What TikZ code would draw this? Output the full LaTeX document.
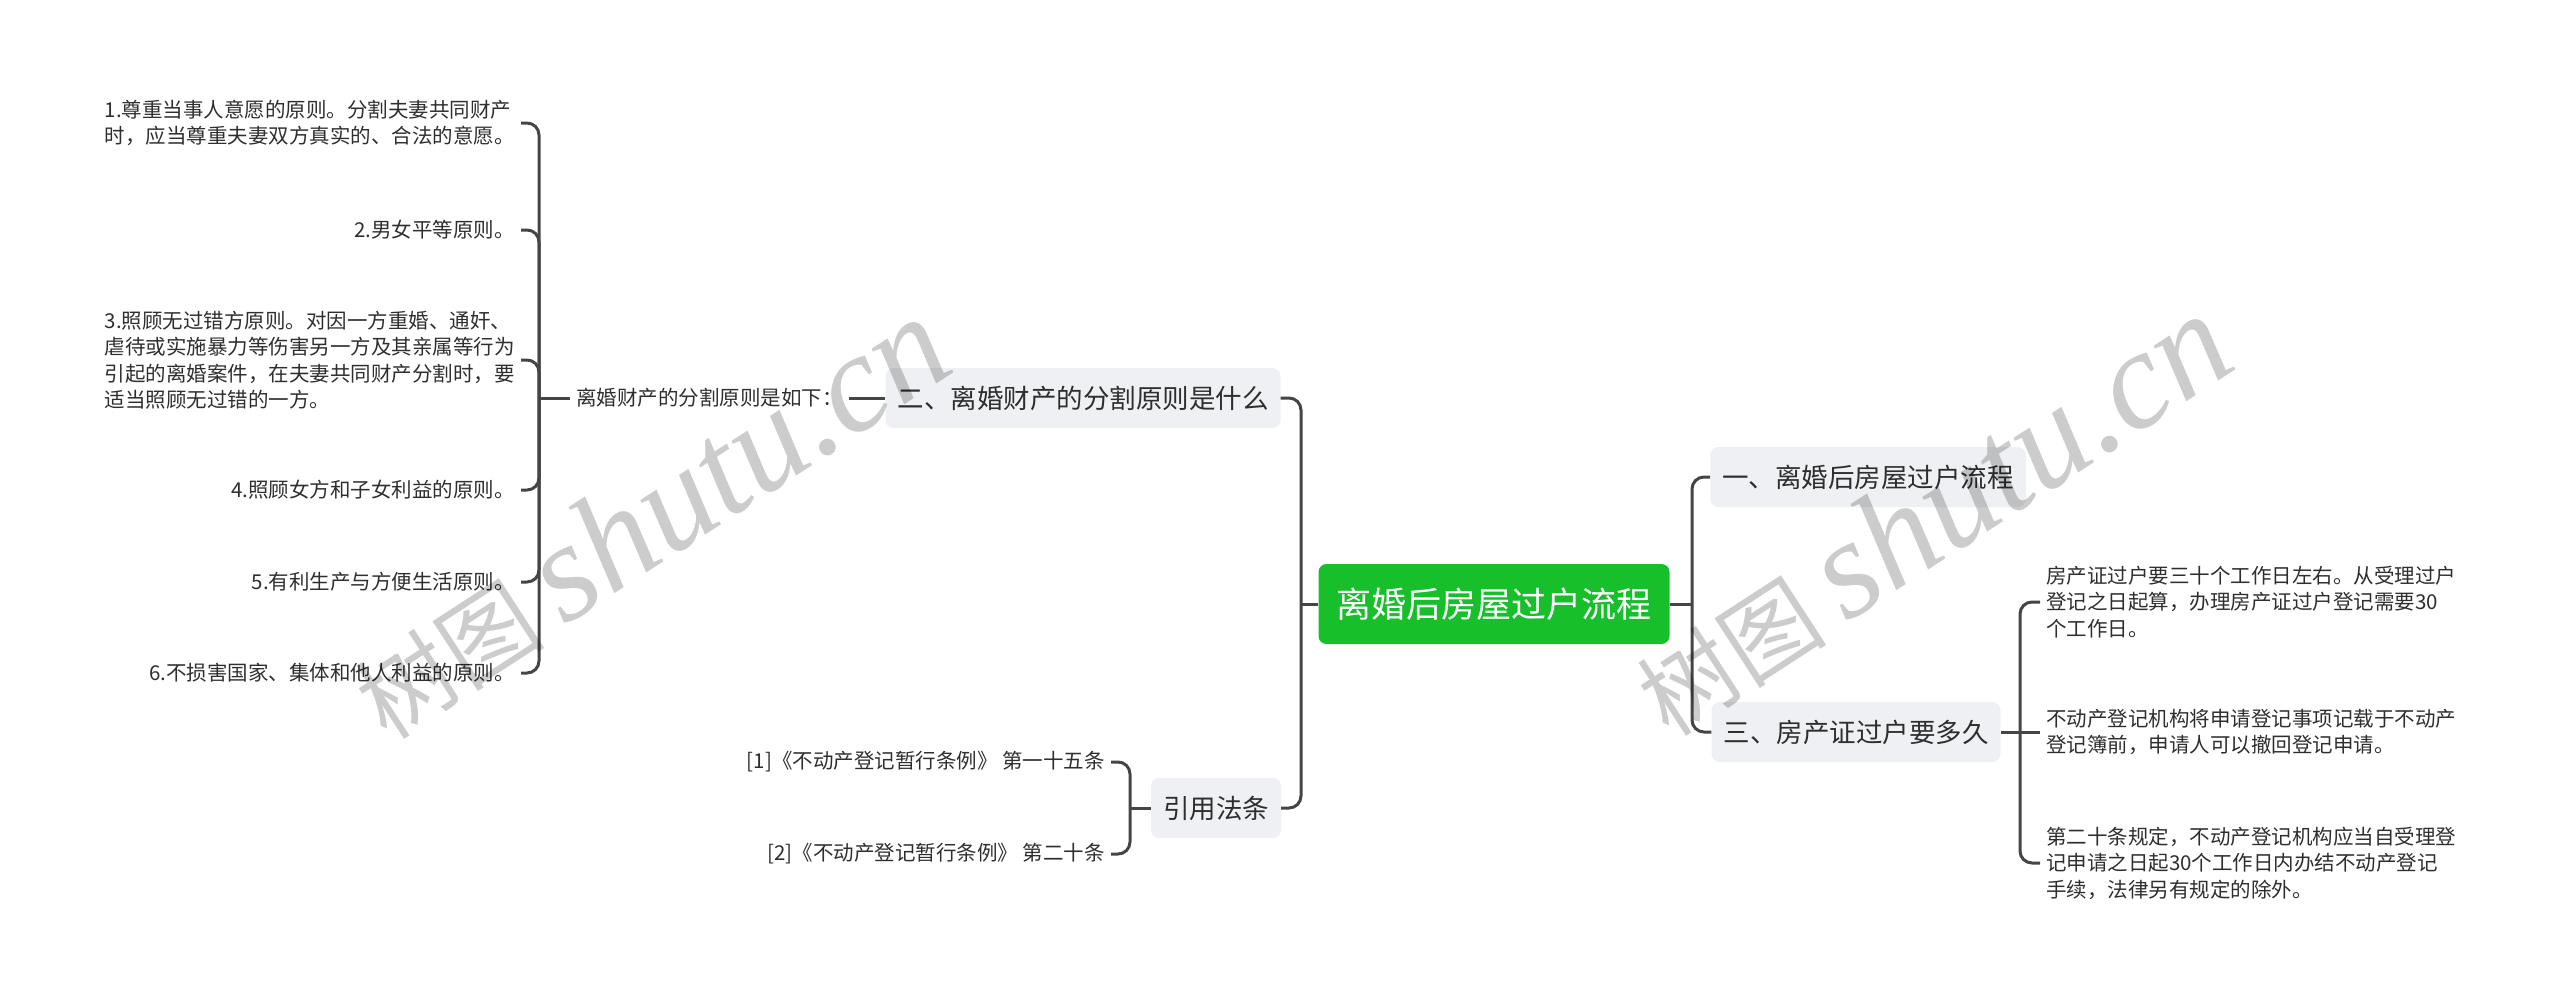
\documentclass[tikz,border=0pt]{standalone}
\usepackage{fontspec}
\setmainfont{Noto Sans CJK SC}
\newfontfamily\wmlatin{Liberation Serif}
\usepackage{tikz}

\definecolor{rootgreen}{HTML}{17C02B}
\definecolor{boxgray}{HTML}{EEF0F3}
\definecolor{linegray}{HTML}{454545}
\definecolor{textdark}{HTML}{2E2E2E}

\begin{document}
\begin{tikzpicture}[x=1pt,y=-1pt,
    rootnode/.style={fill=rootgreen,text=white,rounded corners=8pt,inner xsep=18pt,minimum height=80pt,font=\fontsize{35}{42}\selectfont},
    branch/.style={fill=boxgray,text=textdark,rounded corners=8pt,inner xsep=12pt,minimum height=60pt,font=\fontsize{26.5}{32}\selectfont},
    leaf/.style={text=textdark,inner xsep=6pt,inner ysep=2pt,align=left,font=\fontsize{20.5}{26.5}\selectfont},
    conn/.style={draw=linegray,line width=3pt,rounded corners=12pt},
    wmark/.style={text=black,text opacity=0.2,inner sep=0pt}
]
    \useasboundingbox (0,0) rectangle (2560,1001);

    % centre and main branches
    \node[rootnode] (root) at (1494,604) {离婚后房屋过户流程};
    \node[branch] (flow) at (1868,477) {一、离婚后房屋过户流程};
    \node[branch] (howlong) at (1856,732) {三、房产证过户要多久};
    \node[branch] (rules) at (1083,398) {二、离婚财产的分割原则是什么};
    \node[branch] (laws) at (1216,808) {引用法条};

    % principles
    \node[leaf,anchor=east] (lab) at (849,398) {离婚财产的分割原则是如下：};
    \node[leaf,anchor=east] (p1) at (521,123) {1.尊重当事人意愿的原则。分割夫妻共同财产\\时，应当尊重夫妻双方真实的、合法的意愿。};
    \node[leaf,anchor=east] (p2) at (521,230) {2.男女平等原则。};
    \node[leaf,anchor=east] (p3) at (521,360) {3.照顾无过错方原则。对因一方重婚、通奸、\\虐待或实施暴力等伤害另一方及其亲属等行为\\引起的离婚案件，在夫妻共同财产分割时，要\\适当照顾无过错的一方。};
    \node[leaf,anchor=east] (p4) at (521,490) {4.照顾女方和子女利益的原则。};
    \node[leaf,anchor=east] (p5) at (521,582) {5.有利生产与方便生活原则。};
    \node[leaf,anchor=east] (p6) at (521,673) {6.不损害国家、集体和他人利益的原则。};

    % law references
    \node[leaf,anchor=east] (c1) at (1111,762) {[1]《不动产登记暂行条例》 第一十五条};
    \node[leaf,anchor=east] (c2) at (1111,854) {[2]《不动产登记暂行条例》 第二十条};

    % how long
    \node[leaf,anchor=west] (t1) at (2040,602) {房产证过户要三十个工作日左右。从受理过户\\登记之日起算，办理房产证过户登记需要30\\个工作日。};
    \node[leaf,anchor=west] (t2) at (2040,732) {不动产登记机构将申请登记事项记载于不动产\\登记簿前，申请人可以撤回登记申请。};
    \node[leaf,anchor=west] (t3) at (2040,863) {第二十条规定，不动产登记机构应当自受理登\\记申请之日起30个工作日内办结不动产登记\\手续，法律另有规定的除外。};

    % connectors
    \coordinate (jroot-l) at (1301,604);
    \coordinate (jroot-r) at (1692,604);
    \coordinate (jrules) at (539,398);
    \coordinate (jlaws) at (1130,808);
    \coordinate (jlong) at (2020,732);

    \draw[conn] (root.west) -- (jroot-l);
    \draw[conn] (jroot-l) |- (rules.east);
    \draw[conn] (jroot-l) |- (laws.east);
    \draw[conn] (root.east) -- (jroot-r);
    \draw[conn] (jroot-r) |- (flow.west);
    \draw[conn] (jroot-r) |- (howlong.west);

    \draw[conn] (rules.west) -- (lab.east);
    \draw[conn] (lab.west) -- (jrules);
    \foreach \p in {p1,p2,p3,p4,p5,p6}
        \draw[conn] (jrules) |- (\p.east);

    \draw[conn] (laws.west) -- (jlaws);
    \foreach \c in {c1,c2}
        \draw[conn] (jlaws) |- (\c.east);

    \draw[conn] (howlong.east) -- (jlong);
    \draw[conn] (jlong) -- (t2.west);
    \foreach \t in {t1,t3}
        \draw[conn] (jlong) |- (\t.west);

    % watermark
    \node[wmark,rotate=33] (wm1) at (649,518) {\fontsize{95}{100}\selectfont 树图 {\wmlatin\itshape\fontsize{140}{150}\selectfont shutu.cn}};
    \node[wmark,rotate=33] (wm2) at (1931,515) {\fontsize{95}{100}\selectfont 树图 {\wmlatin\itshape\fontsize{140}{150}\selectfont shutu.cn}};
\end{tikzpicture}
\end{document}
